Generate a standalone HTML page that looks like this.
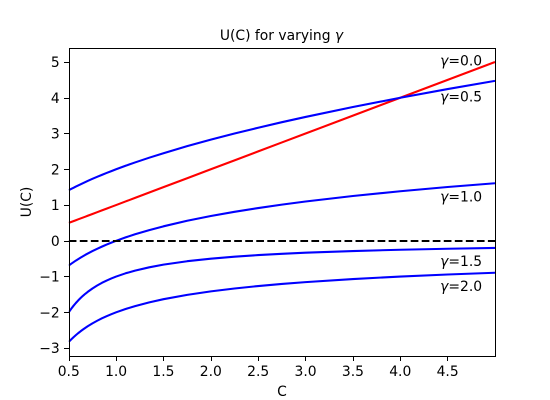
<!DOCTYPE html>
<html>
<head>
<meta charset="utf-8">
<title>U(C) for varying gamma</title>
<style>
html,body{margin:0;padding:0;background:#fff;}
svg{display:block;}
text{font-family:"DejaVu Sans",sans-serif;font-size:13.89px;fill:#000;}
</style>
</head>
<body>
<svg id="chart" xmlns="http://www.w3.org/2000/svg" width="550" height="400" viewBox="0 0 550 400">
  <defs><clipPath id="plot-clip"><rect x="68.75" y="48" width="426.25" height="308"/></clipPath></defs>
  <g id="series-layer" clip-path="url(#plot-clip)"></g>
  <rect x="69.5" y="48.5" width="426" height="308" fill="none" stroke="#000" stroke-width="1"/>
  <g id="tick-layer"></g>
  <g id="annotation-layer"></g>
  <text x="281.5" y="40" text-anchor="middle">U(C) for varying <tspan font-style="italic">γ</tspan></text>
  <text x="282" y="396" text-anchor="middle">C</text>
  <text x="0" y="0" text-anchor="middle" transform="translate(31,202) rotate(-90)">U(C)</text>
</svg>
<script>
var cValues = [0.5,0.525,0.55,0.575,0.6,0.625,0.65,0.675,0.7,0.75,0.8,0.85,0.9,0.95,1.0,1.1,1.2,1.35,1.5,1.75,2.0,2.25,2.5,2.75,3.0,3.5,4.0,4.5,5.0];
var gamma00 = [0.5,0.525,0.55,0.575,0.6,0.625,0.65,0.675,0.7,0.75,0.8,0.85,0.9,0.95,1.0,1.1,1.2,1.35,1.5,1.75,2.0,2.25,2.5,2.75,3.0,3.5,4.0,4.5,5.0];
var gamma05 = [1.414,1.449,1.483,1.517,1.549,1.581,1.612,1.643,1.673,1.732,1.789,1.844,1.897,1.949,2.0,2.098,2.191,2.324,2.449,2.646,2.828,3.0,3.162,3.317,3.464,3.742,4.0,4.243,4.472];
var gamma10 = [-0.693,-0.644,-0.598,-0.553,-0.511,-0.47,-0.431,-0.393,-0.357,-0.288,-0.223,-0.163,-0.105,-0.051,0,0.095,0.182,0.3,0.405,0.56,0.693,0.811,0.916,1.012,1.099,1.253,1.386,1.504,1.609];
var gamma15 = [-2.0,-1.905,-1.818,-1.739,-1.667,-1.6,-1.538,-1.481,-1.429,-1.333,-1.25,-1.176,-1.111,-1.053,-1.0,-0.909,-0.833,-0.741,-0.667,-0.571,-0.5,-0.444,-0.4,-0.364,-0.333,-0.286,-0.25,-0.222,-0.2];
var gamma20 = [-2.828,-2.76,-2.697,-2.638,-2.582,-2.53,-2.481,-2.434,-2.39,-2.309,-2.236,-2.169,-2.108,-2.052,-2.0,-1.907,-1.826,-1.721,-1.633,-1.512,-1.414,-1.333,-1.265,-1.206,-1.155,-1.069,-1.0,-0.943,-0.894];
var referenceLevel = [0];
var xTickValues = [0.5,1.0,1.5,2.0,2.5,3.0,3.5,4.0,4.5];
var xTickLabels = ["0.5","1.0","1.5","2.0","2.5","3.0","3.5","4.0","4.5"];
var yTickValues = [-3,-2,-1,0,1,2,3,4,5];
var yTickLabels = ["\u22123","\u22122","\u22121","0","1","2","3","4","5"];
var annotationLabels = ["0.0","0.5","1.0","1.5","2.0"];
var annotationX = [4.4,4.4,4.4,4.4,4.4];
var annotationY = [4.9,3.9,1.1,-0.7,-1.4];

var NS = "http://www.w3.org/2000/svg";
var plotLeft = 68.75, plotRight = 495, plotTop = 48, plotBottom = 356;
var xMin = 0.5, xMax = 5, yMin = -3.2215, yMax = 5.3915;
function xScale(v){ return plotLeft + (v - xMin) / (xMax - xMin) * (plotRight - plotLeft); }
function yScale(v){ return plotBottom - (v - yMin) / (yMax - yMin) * (plotBottom - plotTop); }
function snapOdd(p){ return Math.floor(p + 0.25) + 0.5; }

var seriesLayer = document.getElementById("series-layer");
var tickLayer = document.getElementById("tick-layer");
var annotationLayer = document.getElementById("annotation-layer");

function makePath(values, color){
  var d = "";
  for (var i = 0; i < cValues.length; i++) {
    d += (i ? "L" : "M") + xScale(cValues[i]).toFixed(2) + " " + yScale(values[i]).toFixed(2);
  }
  var p = document.createElementNS(NS, "path");
  p.setAttribute("d", d);
  p.setAttribute("fill", "none");
  p.setAttribute("stroke", color);
  p.setAttribute("stroke-width", "2.08");
  p.setAttribute("stroke-linejoin", "round");
  seriesLayer.appendChild(p);
  return p;
}

var line00 = makePath(gamma00, "#ff0000");


var line05 = makePath(gamma05, "#0000ff");


var line10 = makePath(gamma10, "#0000ff");


var line15 = makePath(gamma15, "#0000ff");


var line20 = makePath(gamma20, "#0000ff");



var zeroLine = document.createElementNS(NS, "line");


zeroLine.setAttribute("x1", plotLeft);
zeroLine.setAttribute("x2", plotRight);
zeroLine.setAttribute("y1", Math.round(yScale(referenceLevel[0])));
zeroLine.setAttribute("y2", Math.round(yScale(referenceLevel[0])));
zeroLine.setAttribute("stroke", "#000");
zeroLine.setAttribute("stroke-width", "2");
zeroLine.setAttribute("stroke-dasharray", "7.7 3.33");
seriesLayer.appendChild(zeroLine);

xTickValues.forEach(function(v, i){
  var t = document.createElementNS(NS, "line");
  
  
  t.setAttribute("x1", snapOdd(xScale(v)));
  t.setAttribute("x2", snapOdd(xScale(v)));
  t.setAttribute("y1", 357);
  t.setAttribute("y2", 361);
  t.setAttribute("stroke", "#000");
  t.setAttribute("stroke-width", "1");
  tickLayer.appendChild(t);
  var l = document.createElementNS(NS, "text");
  
  
  l.setAttribute("x", xScale(v));
  l.setAttribute("y", 376);
  l.setAttribute("text-anchor", "middle");
  l.textContent = xTickLabels[i];
  tickLayer.appendChild(l);
});

yTickValues.forEach(function(v, i){
  var t = document.createElementNS(NS, "line");
  
  
  t.setAttribute("x1", 64);
  t.setAttribute("x2", 69);
  t.setAttribute("y1", snapOdd(yScale(v)));
  t.setAttribute("y2", snapOdd(yScale(v)));
  t.setAttribute("stroke", "#000");
  t.setAttribute("stroke-width", "1");
  tickLayer.appendChild(t);
  var l = document.createElementNS(NS, "text");
  
  
  l.setAttribute("x", plotLeft - 9);
  l.setAttribute("y", yScale(v) + 5);
  l.setAttribute("text-anchor", "end");
  l.textContent = yTickLabels[i];
  tickLayer.appendChild(l);
});

annotationLabels.forEach(function(s, i){
  var a = document.createElementNS(NS, "text");
  
  
  a.setAttribute("x", xScale(annotationX[i]) + 2);
  a.setAttribute("y", yScale(annotationY[i]));
  var g = document.createElementNS(NS, "tspan");
  g.setAttribute("font-style", "italic");
  g.textContent = "\u03b3";
  a.appendChild(g);
  a.appendChild(document.createTextNode("=" + s));
  annotationLayer.appendChild(a);
});
</script>
</body>
</html>
